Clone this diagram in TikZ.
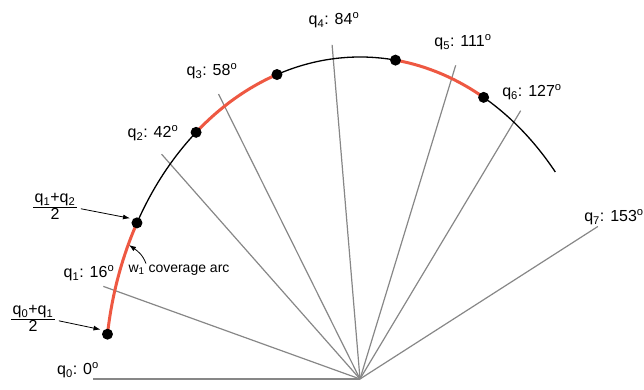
\documentclass[tikz,border=0pt]{standalone}
\usepackage{fontspec}
\setmainfont{Liberation Sans}
\usepackage{tikz}
\usetikzlibrary{arrows.meta,positioning}
\definecolor{spokegray}{RGB}{135,135,135}
\definecolor{arcred}{RGB}{238,88,66}
\newcommand{\qlab}[2]{q\textsubscript{#1}: #2\textsuperscript{o}}
\newcommand{\halfsum}[2]{\renewcommand{\arraystretch}{0.95}\setlength{\arrayrulewidth}{0.9pt}%
  \begin{tabular}{@{\hspace{1.5pt}}c@{\hspace{1.5pt}}}q\textsubscript{#1}+q\textsubscript{#2}\\[-1pt]\hline 2\end{tabular}}

\begin{document}
\begin{tikzpicture}[x=1pt,y=1pt,
  spoke/.style={draw=spokegray,line width=1.2pt},
  arcline/.style={draw=black,line width=1.3pt},
  cover/.style={draw=arcred,line width=3pt},
  dot/.style={circle,fill=black,inner sep=0pt,minimum size=11pt},
  lbl/.style={font=\fontsize{16}{18}\selectfont,inner sep=0pt},
  note/.style={font=\fontsize{14}{16}\selectfont,inner sep=0pt},
  ptr/.style={-{Latex[length=7pt,width=5pt]},line width=0.8pt}
]
\useasboundingbox (-360,-11) rectangle (284,379);
\coordinate (o) at (0,0);
\coordinate (q0) at (180:267 and 336);
\coordinate (q1) at (164:267 and 336);
\coordinate (q2) at (138:267 and 336);
\coordinate (q3) at (122:267 and 336);
\coordinate (q4) at (96:267 and 336);
\coordinate (q5) at (69:267 and 336);
\coordinate (q6) at (53:267 and 336);
\coordinate (q7) at (27:267 and 336);
% spokes
\draw[spoke] (o) -- (q0);
\draw[spoke] (o) -- (q1);
\draw[spoke] (o) -- (q2);
\draw[spoke] (o) -- (q3);
\draw[spoke] (o) -- (q4);
\draw[spoke] (o) -- (q5);
\draw[spoke] (o) -- (q6);
\draw[spoke] (o) -- (q7);
% arc and coverage pieces
\draw[arcline] (151:255 and 322) arc[start angle=151,end angle=40,x radius=255,y radius=322];
\draw[cover] (172:255 and 322) arc[start angle=172,end angle=151,x radius=255,y radius=322];
\draw[cover] (130:255 and 322) arc[start angle=130,end angle=109,x radius=255,y radius=322];
\draw[cover] (82:255 and 322) arc[start angle=82,end angle=61,x radius=255,y radius=322];
\node[dot] (m0) at (172:255 and 322) {};
\node[dot] (m1) at (151:255 and 322) {};
\node[dot] (m2) at (130:255 and 322) {};
\node[dot] (m3) at (109:255 and 322) {};
\node[dot] (m4) at (82:255 and 322) {};
\node[dot] (m5) at (61:255 and 322) {};
% labels
\node[lbl] (l0) at (-282,9) {\qlab{0}{0}};
\node[lbl] (l1) at (-271,106) {\qlab{1}{16}};
\node[lbl] (l2) at (-207,246) {\qlab{2}{42}};
\node[lbl] (l3) at (-148,308) {\qlab{3}{58}};
\node[lbl] (l4) at (-26,359) {\qlab{4}{84}};
\node[lbl] (l5) at (103,337) {\qlab{5}{111}};
\node[lbl] (l6) at (172,287) {\qlab{6}{127}};
\node[lbl] (l7) at (254,162) {\qlab{7}{153}};
\node[lbl] (f01) at (-327,59) {\halfsum{0}{1}};
\node[lbl] (f12) at (-305,171) {\halfsum{1}{2}};
\node[note] (cov) at (-181,109) {w\textsubscript{1} coverage arc};
\coordinate (covtip) at (-231,134);
\draw[ptr,shorten <=4pt,shorten >=3pt] (f01.east) -- (m0.north west);
\draw[ptr,shorten <=4pt,shorten >=3pt] (f12.east) -- (m1.north west);
\draw[ptr] ([xshift=-33pt,yshift=1pt]cov.north) to[out=110,in=-35] (covtip);
\end{tikzpicture}
\end{document}
